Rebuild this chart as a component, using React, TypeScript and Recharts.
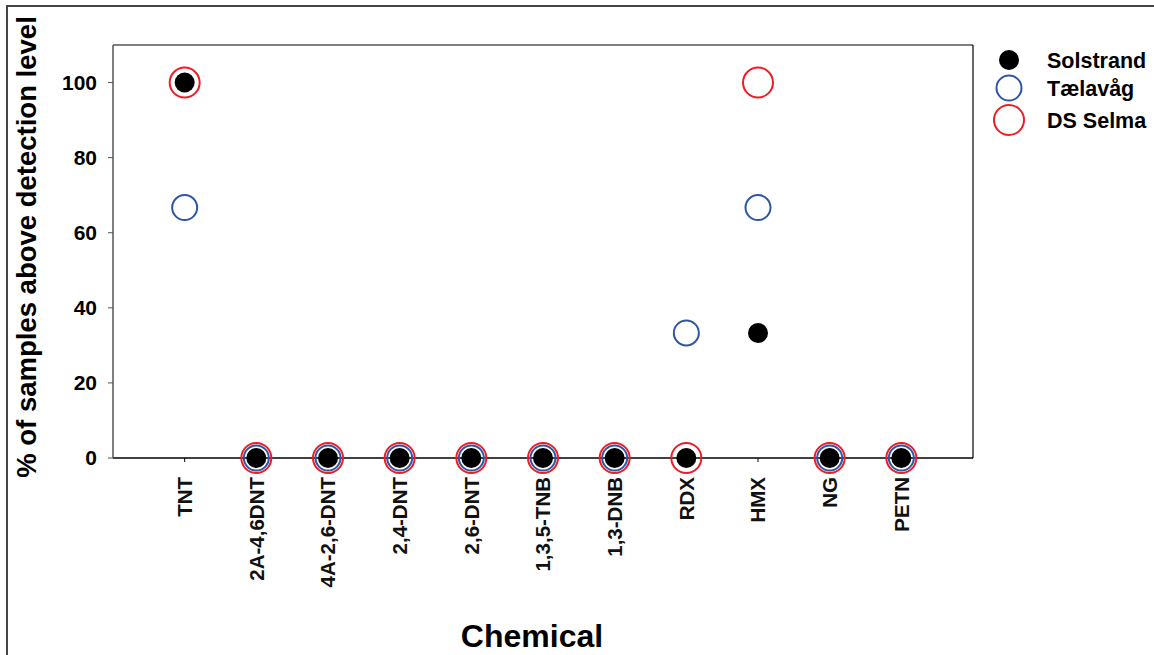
import React from 'react';
import {
  ScatterChart,
  Scatter,
  XAxis,
  YAxis,
  ReferenceLine,
} from 'recharts';

const chemicals = ['TNT', '2A-4,6DNT', '4A-2,6-DNT', '2,4-DNT', '2,6-DNT', '1,3,5-TNB', '1,3-DNB', 'RDX', 'HMX', 'NG', 'PETN'];
const solstrand = [100, 0, 0, 0, 0, 0, 0, 0, 33.3, 0, 0];
const taelavag = [66.7, 0, 0, 0, 0, 0, 0, 33.3, 66.7, 0, 0];
const dsSelma = [100, 0, 0, 0, 0, 0, 0, 0, 100, 0, 0];
const yTicks = [0, 20, 40, 60, 80, 100];

const FONT = '"Liberation Sans", Arial, sans-serif';

const toPoints = (values: number[]) => values.map((v, i) => ({ x: i + 1, y: v, name: chemicals[i] }));

// drawn back to front: red outer ring, blue ring, black dot on top
const series = [
  { name: 'DS Selma', data: toPoints(dsSelma), r: 15, fill: 'none', stroke: '#ee1c25', strokeWidth: 2 },
  { name: 'Tælavåg', data: toPoints(taelavag), r: 12.5, fill: 'none', stroke: '#2f55a8', strokeWidth: 2 },
  { name: 'Solstrand', data: toPoints(solstrand), r: 10, fill: '#000', stroke: 'none', strokeWidth: 0 },
];

const legendOrder = ['Solstrand', 'Tælavåg', 'DS Selma'];
const legendRowY = [60, 88, 120];

const XTick = (props: any) => {
  const { x, y, payload } = props;
  const label = chemicals[payload.value - 1] ?? '';
  return (
    <g transform={`translate(${x},${y + 13})`}>
      <text
        transform="rotate(-90)"
        textAnchor="end"
        dy="0.36em"
        fontSize={20.5}
        fontWeight="bold"
        fontFamily={FONT}
        fill="#111"
      >
        {label}
      </text>
    </g>
  );
};

const App: React.FC = () => {
  return (
    <div style={{ position: 'absolute', left: 0, top: 0, width: 1154, height: 655, overflow: 'hidden', background: '#fff' }}>
      <div
        style={{
          position: 'absolute',
          left: 6,
          top: 5,
          width: 1300,
          height: 800,
          borderTop: '2px solid #444',
          borderLeft: '2px solid #444',
        }}
      />
      <ScatterChart width={1154} height={655} margin={{ top: 45, right: 181, bottom: 0, left: 0 }}>
        <XAxis
          type="number"
          dataKey="x"
          domain={[0, 12]}
          ticks={[1, 2, 3, 4, 5, 6, 7, 8, 9, 10, 11]}
          interval={0}
          height={197}
          tickSize={4}
          tick={<XTick />}
          stroke="#000"
          axisLine={{ stroke: '#000', strokeWidth: 1.5 }}
          tickLine={{ stroke: '#000' }}
          label={() => (
            <text x={532} y={647} textAnchor="middle" fontSize={32} fontWeight="bold" fontFamily={FONT} fill="#000">
              Chemical
            </text>
          )}
        />
        <YAxis
          type="number"
          dataKey="y"
          domain={[0, 110]}
          ticks={yTicks}
          width={113}
          tickSize={5}
          tickMargin={11}
          tick={{ fontSize: 21, fontWeight: 'bold', fontFamily: FONT, fill: '#000' }}
          axisLine={{ stroke: '#555', strokeWidth: 1.5 }}
          tickLine={{ stroke: '#555' }}
          label={() => (
            <text
              transform="translate(36,247) rotate(-90)"
              textAnchor="middle"
              fontSize={27.5}
              fontWeight="bold"
              fontFamily={FONT}
              fill="#000"
            >
              % of samples above detection level
            </text>
          )}
        />
        <ReferenceLine y={110} stroke="#000" strokeWidth={1.2} />
        <ReferenceLine x={12} stroke="#000" strokeWidth={1.2} />
        {series.map((s) => (
          <Scatter
            key={s.name}
            name={s.name}
            data={s.data}
            isAnimationActive={false}
            shape={(p: any) => (
              <circle cx={p.cx} cy={p.cy} r={s.r} fill={s.fill} stroke={s.stroke} strokeWidth={s.strokeWidth} />
            )}
          />
        ))}
      </ScatterChart>
      <svg style={{ position: 'absolute', left: 0, top: 0 }} width={1154} height={160}>
        {legendOrder.map((name, i) => {
          const s = series.find((d) => d.name === name)!;
          const cy = legendRowY[i];
          return (
            <g key={name}>
              <circle cx={1009} cy={cy} r={s.r} fill={s.fill} stroke={s.stroke} strokeWidth={s.strokeWidth} />
              <text x={1047} y={cy + 7.5} fontSize={21.5} fontWeight="bold" fontFamily={FONT} fill="#000">
                {name}
              </text>
            </g>
          );
        })}
      </svg>
    </div>
  );
};

export default App;
